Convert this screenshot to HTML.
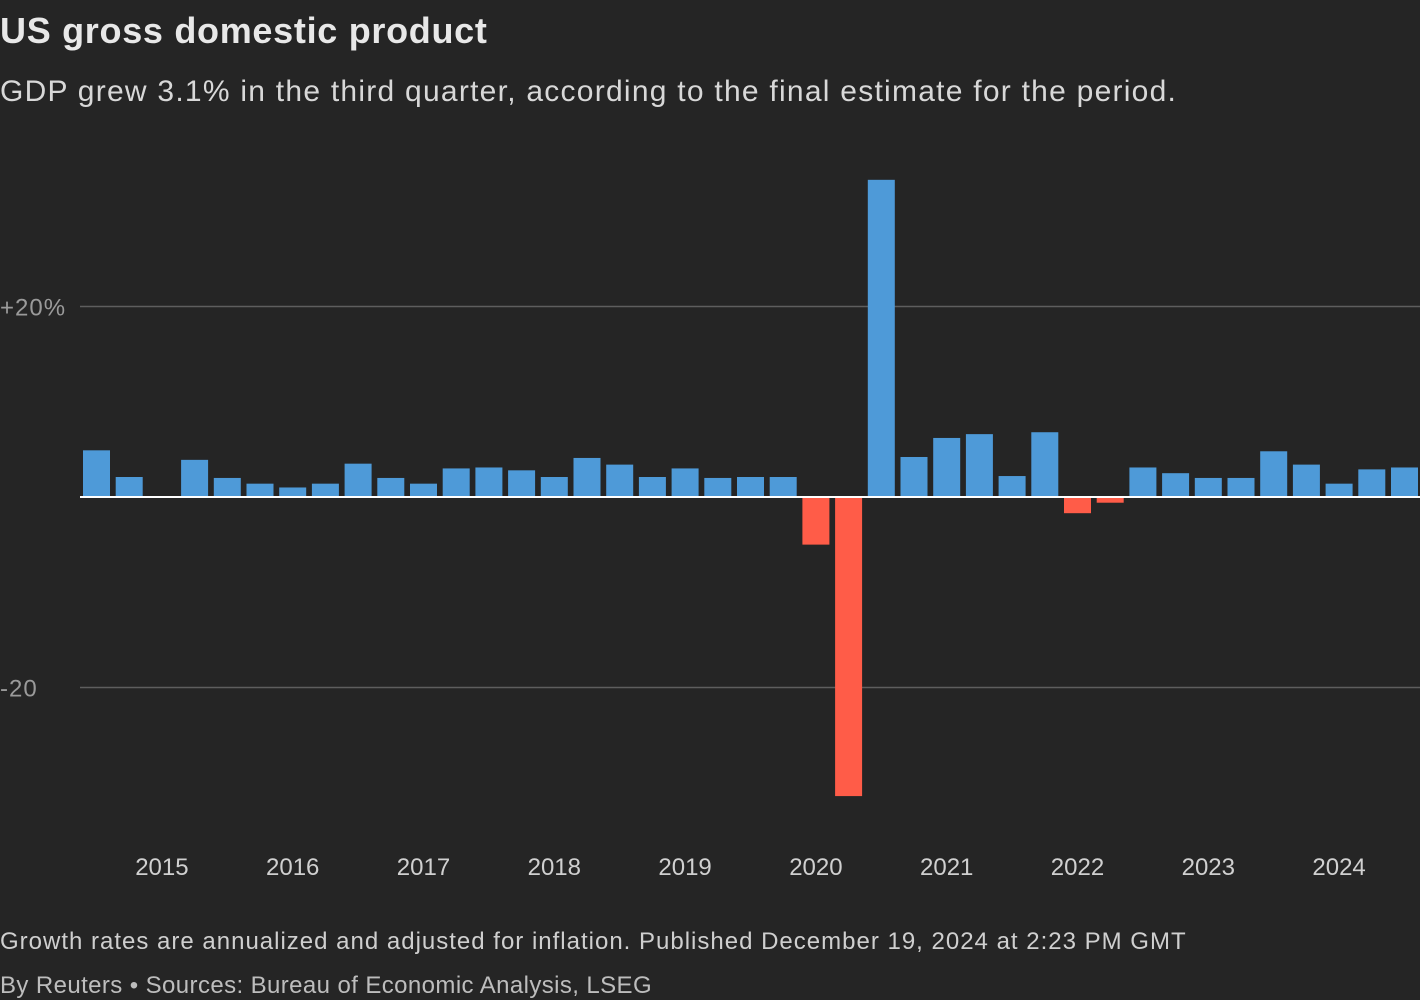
<!DOCTYPE html>
<html><head><meta charset="utf-8"><style>
body{margin:0;background:#252525;width:1420px;height:1000px;overflow:hidden;font-family:"Liberation Sans",sans-serif;color:#e0e0e0;position:relative}
.t{position:absolute;left:0;white-space:nowrap}
</style></head><body>
<div class="t" style="top:10px;font-size:36px;font-weight:bold;color:#e8e8e8;letter-spacing:0.7px">US gross domestic product</div>
<div class="t" style="top:75px;font-size:30px;color:#d8d8d8;letter-spacing:1.25px">GDP grew 3.1% in the third quarter, according to the final estimate for the period.</div>
<svg style="position:absolute;left:0;top:0" width="1420" height="1000" id="svg"></svg>
<div class="t" style="top:928px;font-size:24px;color:#cfcfcf;letter-spacing:1px">Growth rates are annualized and adjusted for inflation. Published December 19, 2024 at 2:23 PM GMT</div>
<div class="t" style="top:972px;font-size:24px;color:#bdbdbd;letter-spacing:0.4px">By Reuters • Sources: Bureau of Economic Analysis, LSEG</div>
<script>
const values=[4.9,2.1,0,3.9,2.0,1.4,1.0,1.4,3.5,2.0,1.4,3.0,3.1,2.8,2.1,4.1,3.4,2.1,3.0,2.0,2.1,2.1,-5.0,-31.4,33.3,4.2,6.2,6.6,2.2,6.8,-1.7,-0.6,3.1,2.5,2.0,2.0,4.8,3.4,1.4,2.9,3.1];
const yTicks=[20,-20];
const yTickLabels=["+20%","-20"];
const years=["2015","2016","2017","2018","2019","2020","2021","2022","2023","2024"];
const yearBarIndex=[2,6,10,14,18,22,26,30,34,38];
const NS="http://www.w3.org/2000/svg",svg=document.getElementById('svg');
const y=v=>497-v*9.525, xc=i=>96.5+i*32.7, bw=27;
function mk(t,a){const e=document.createElementNS(NS,t);for(const k in a)e.setAttribute(k,a[k]);svg.appendChild(e);return e;}
yTicks.forEach((v,i)=>{
 const l=mk('line',{x1:80,x2:1420,y1:y(v),y2:y(v),stroke:'#5e5e5e','stroke-width':1.5});
 
 
 const t=mk('text',{x:0,y:y(v)+9,fill:'#9a9a9a','font-size':24,'letter-spacing':1,'font-family':'Liberation Sans, sans-serif'});
 t.textContent=yTickLabels[i];
 
 
});
values.forEach((v,i)=>{
 const r=mk('rect',{x:xc(i)-bw/2,y:Math.min(y(v),y(0)),width:bw,height:Math.abs(y(v)-y(0)),fill:v>=0?'#4e9ad8':'#ff5c48'});
 
 
});
const z=mk('line',{x1:80,x2:1420,y1:y(0),y2:y(0),stroke:'#ffffff','stroke-width':2});


years.forEach((s,i)=>{
 const t=mk('text',{x:xc(yearBarIndex[i]),y:875,fill:'#d0d0d0','font-size':24,'text-anchor':'middle','font-family':'Liberation Sans, sans-serif'});
 t.textContent=s;
 
 
});
</script>
</body></html>
